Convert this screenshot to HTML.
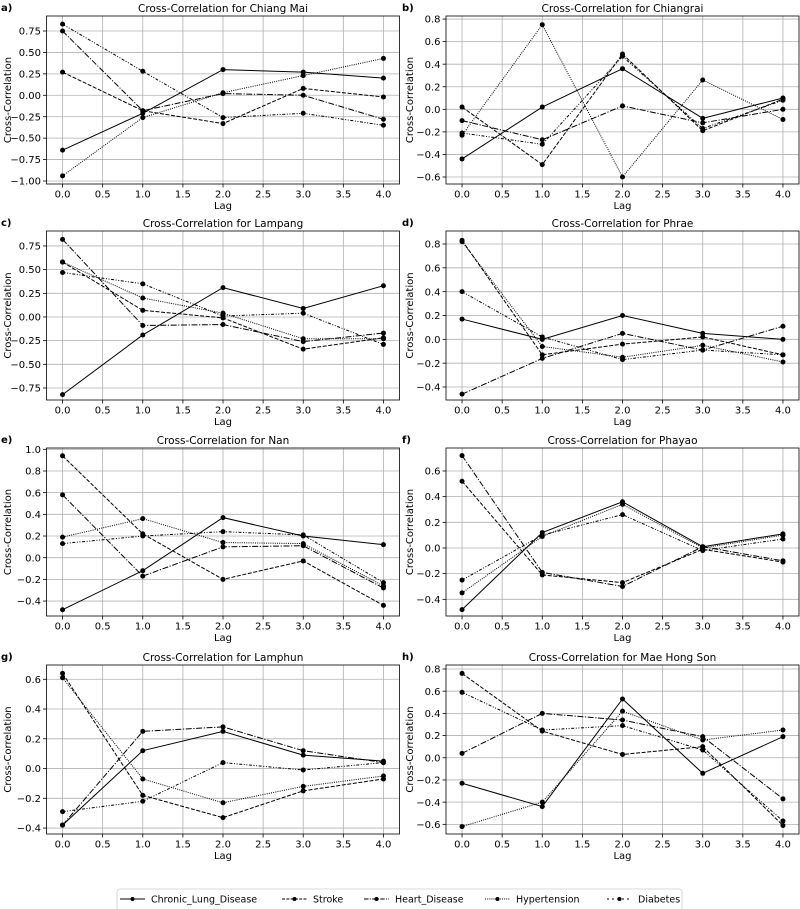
<!DOCTYPE html>
<html><head><meta charset="utf-8">
<style>
html,body{margin:0;padding:0;background:#fff;}
svg{display:block;font-family:"DejaVu Sans","Liberation Sans",sans-serif;}
</style></head>
<body>
<svg id="chart" width="800" height="909" viewBox="0 0 800 909" xmlns="http://www.w3.org/2000/svg"></svg>
<script>
const lags = [0, 1, 2, 3, 4];
const seriesNames = ["Chronic_Lung_Disease", "Stroke", "Heart_Disease", "Hypertension", "Diabetes"];
const panelTitles = ["Chiang Mai","Chiangrai","Lampang","Phrae","Nan","Phayao","Lamphun","Mae Hong Son"];
const panelLetters = ["a)","b)","c)","d)","e)","f)","g)","h)"];
const xTicks = [0, 0.5, 1, 1.5, 2, 2.5, 3, 3.5, 4];
const xLim = [-0.2, 4.2];
const yLims = [[-1.035,0.925],[-0.662,0.827],[-0.877,0.908],[-0.509,0.909],[-0.538,1.012],[-0.530,0.779],[-0.440,0.696],[-0.687,0.836]];
const yTicks = [
  [-1.0,-0.75,-0.5,-0.25,0,0.25,0.5,0.75],
  [-0.6,-0.4,-0.2,0,0.2,0.4,0.6,0.8],
  [-0.75,-0.5,-0.25,0,0.25,0.5,0.75],
  [-0.4,-0.2,0,0.2,0.4,0.6,0.8],
  [-0.4,-0.2,0,0.2,0.4,0.6,0.8,1.0],
  [-0.4,-0.2,0,0.2,0.4,0.6],
  [-0.4,-0.2,0,0.2,0.4,0.6],
  [-0.6,-0.4,-0.2,0,0.2,0.4,0.6,0.8]
];
const yTickDecimals = [2,1,2,1,1,1,1,1];
// values per panel: [Chronic, Stroke, Heart, Hypertension, Diabetes]
const chiangMai = [[-0.64,-0.21,0.30,0.27,0.20],[0.27,-0.18,-0.33,0.08,-0.02],[0.75,-0.18,0.02,0.00,-0.28],[-0.94,-0.26,0.03,0.23,0.43],[0.83,0.28,-0.26,-0.21,-0.35]];
const chiangrai = [[-0.44,0.02,0.36,-0.08,0.10],[0.02,-0.49,0.49,-0.19,0.09],[-0.10,-0.27,0.03,-0.12,0.00],[-0.23,0.75,-0.60,0.26,-0.09],[-0.21,-0.31,0.47,-0.17,0.08]];
const lampang = [[-0.82,-0.19,0.31,0.09,0.33],[0.58,0.07,-0.01,-0.34,-0.22],[0.82,-0.09,-0.08,-0.26,-0.17],[0.58,0.20,0.04,-0.23,-0.23],[0.47,0.35,0.01,0.04,-0.29]];
const phrae = [[0.17,0.00,0.20,0.05,0.00],[0.83,-0.13,-0.04,0.02,-0.13],[-0.46,-0.16,0.05,-0.09,0.11],[0.82,-0.06,-0.15,-0.05,-0.19],[0.40,0.02,-0.17,-0.09,-0.13]];
const nan = [[-0.48,-0.12,0.37,0.20,0.12],[0.94,0.22,-0.20,-0.03,-0.44],[0.58,-0.17,0.10,0.11,-0.28],[0.19,0.36,0.14,0.13,-0.26],[0.13,0.20,0.24,0.21,-0.23]];
const phayao = [[-0.48,0.12,0.36,0.01,0.11],[0.52,-0.21,-0.27,-0.01,-0.11],[0.72,-0.19,-0.30,0.01,-0.10],[-0.35,0.09,0.34,0.00,0.10],[-0.25,0.10,0.26,-0.02,0.07]];
const lamphun = [[-0.38,0.12,0.25,0.09,0.05],[0.64,-0.18,-0.33,-0.15,-0.07],[-0.38,0.25,0.28,0.12,0.04],[0.61,-0.07,-0.23,-0.12,-0.05],[-0.29,-0.22,0.04,-0.01,0.04]];
const maeHongSon = [[-0.23,-0.44,0.53,-0.14,0.19],[0.76,0.24,0.03,0.10,-0.61],[0.04,0.40,0.34,0.19,-0.37],[-0.62,-0.40,0.42,0.16,0.25],[0.59,0.25,0.29,0.07,-0.57]];
const panelData = [chiangMai, chiangrai, lampang, phrae, nan, phayao, lamphun, maeHongSon];

const dashes = ["", "4,1.6", "6,1.6,1.2,1.6", "1,1.2", "3,1.6,1,1.6,1,1.6"];
const legDashes = ["", "3,1.3", "4.5,1.3,1,1.3", "0.9,1", "2,3"];
const NS = "http://www.w3.org/2000/svg";
const svg = document.getElementById("chart");
function mk(tag, attrs, parent){ const e=document.createElementNS(NS,tag); for(const k in attrs) e.setAttribute(k,attrs[k]); (parent||svg).appendChild(e); return e; }

const colLeft = [46.5, 446];
const rowTop = [16, 231, 448, 665];
const rowBot = [184, 400, 616, 834];
const W = 353;

panelData.forEach((data, p) => {
  const c = p % 2, r = Math.floor(p / 2);
  const L = colLeft[c], T = rowTop[r], B = rowBot[r], R = L + W;
  const [ylo, yhi] = yLims[p];
  const xs = v => L + (v - xLim[0]) / (xLim[1] - xLim[0]) * W;
  const ys = v => B - (v - ylo) / (yhi - ylo) * (B - T);
  const g = mk("g", {});
  
  
  xTicks.forEach(t => {
    const x = xs(t);
    mk("line",{x1:x,x2:x,y1:T,y2:B,stroke:"#b0b0b0","stroke-width":0.8},g);
    mk("line",{x1:x,x2:x,y1:B,y2:B+3.5,stroke:"#000","stroke-width":0.8},g);
    const tx = mk("text",{x:x,y:B+13.5,"font-size":10,"text-anchor":"middle",fill:"#000"},g);
    tx.textContent = t.toFixed(1);
    
    
  });
  yTicks[p].forEach(t => {
    const y = ys(t);
    mk("line",{x1:L,x2:R,y1:y,y2:y,stroke:"#b0b0b0","stroke-width":0.8},g);
    mk("line",{x1:L-3.5,x2:L,y1:y,y2:y,stroke:"#000","stroke-width":0.8},g);
    const tx = mk("text",{x:L-5.5,y:y+3.6,"font-size":10,"text-anchor":"end",fill:"#000"},g);
    tx.textContent = t.toFixed(yTickDecimals[p]).replace("-","\u2212");
    
    
  });
  data.forEach((vals, s) => {
    const pts = vals.map((v,i) => xs(lags[i]) + "," + ys(v)).join(" ");
    const pl = mk("polyline",{points:pts,fill:"none",stroke:"#000","stroke-width":1,"stroke-dasharray":dashes[s]},g);
    
    
    vals.forEach((v,i) => {
      const m = mk("circle",{cx:xs(lags[i]),cy:ys(v),r:2.5,fill:"#000"},g);
      
      
    });
  });
  mk("rect",{x:L,y:T,width:W,height:B-T,fill:"none",stroke:"#000","stroke-width":0.8},g);
  const title = mk("text",{x:L+W/2,y:T-4,"font-size":10.5,"text-anchor":"middle",fill:"#000"},g);
  title.textContent = "Cross-Correlation for " + panelTitles[p];
  
  
  const letter = mk("text",{x:c===0?1:402,y:T-5,"font-size":10,"font-weight":"bold",fill:"#000"},g);
  letter.textContent = panelLetters[p];
  
  
  const xl = mk("text",{x:L+W/2,y:B+25,"font-size":10,"text-anchor":"middle",fill:"#000"},g);
  xl.textContent = "Lag";
  
  
  const yc = (T+B)/2, yx = c===0 ? 11 : 413;
  const yl = mk("text",{x:yx,y:yc,"font-size":10,"text-anchor":"middle",fill:"#000",transform:"rotate(-90 "+yx+" "+yc+")"},g);
  yl.textContent = "Cross-Correlation";
  
  
});

const lg = mk("g",{});


mk("rect",{x:117,y:889,width:565,height:22,rx:3,fill:"#fff",stroke:"#ccc","stroke-width":0.8},lg);
const legX = [120, 282, 364, 485, 607];
seriesNames.forEach((n,s) => {
  const e = mk("g",{},lg);
  
  
  const x = legX[s];
  mk("line",{x1:x,x2:x+25,y1:899,y2:899,stroke:"#000","stroke-width":1,"stroke-dasharray":legDashes[s]},e);
  mk("circle",{cx:x+12.5,cy:899,r:2,fill:"#000"},e);
  const t = mk("text",{x:x+31,y:902.5,"font-size":9.5,fill:"#000"},e);
  t.textContent = n;
});
</script>
</body></html>
